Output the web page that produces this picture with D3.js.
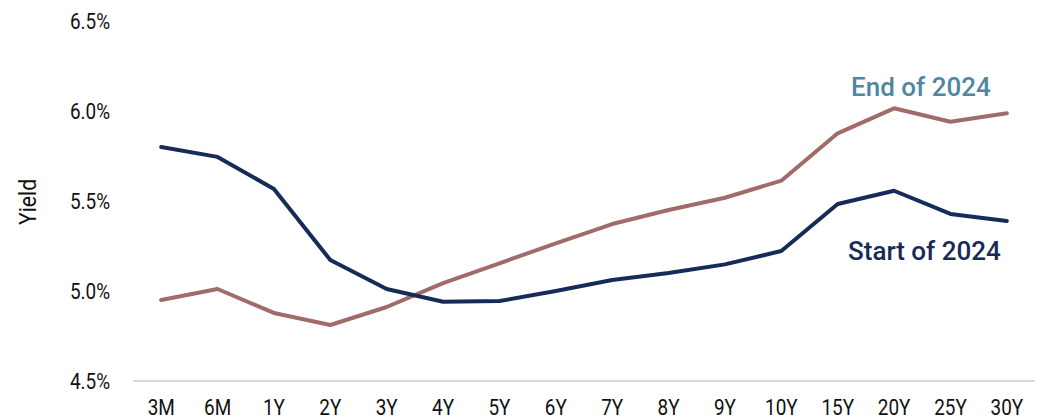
<!DOCTYPE html>
<html>
<head>
<meta charset="utf-8">
<script src="https://cdn.jsdelivr.net/npm/d3@7"></script>
<style>
  body { margin: 0; background: #fff; }
  text { font-family: Roboto, "Noto Sans", sans-serif; }
</style>
</head>
<body>
<div id="chart"></div>
<script>
var tenors = ["3M","6M","1Y","2Y","3Y","4Y","5Y","6Y","7Y","8Y","9Y","10Y","15Y","20Y","25Y","30Y"];
var startOf2024 = [5.80,5.745,5.567,5.172,5.011,4.94,4.944,5.0,5.061,5.10,5.148,5.222,5.483,5.557,5.428,5.389];
var endOf2024 = [4.95,5.011,4.878,4.811,4.911,5.044,5.154,5.265,5.372,5.45,5.518,5.613,5.876,6.015,5.94,5.987];
var yTicks = [4.5,5.0,5.5,6.0,6.5];

var width = 1049, height = 419;
var squeeze = 0.86; // narrow the text like a condensed face

var svg = d3.select("#chart")
    .append("svg")
    .attr("width", width)
    .attr("height", height);

var x = d3.scaleBand()
    .domain(tenors)
    .range([133, 1035]);

var y = d3.scaleLinear()
    .domain([4.5, 6.5])
    .range([381, 21]);

// baseline
svg.append("line")
    .attr("x1", x.range()[0])
    .attr("x2", x.range()[1])
    .attr("y1", y(4.5))
    .attr("y2", y(4.5))
    .attr("stroke", "#d9d9d9")
    .attr("stroke-width", 2);

// y axis labels
var yAxis = svg.append("g")
    .attr("transform", "translate(110,0)")
    .call(d3.axisLeft(y)
        .tickValues(yTicks)
        .tickSize(0)
        .tickPadding(0)
        .tickFormat(function(d) { return d.toFixed(1) + "%"; }));
yAxis.select(".domain").remove();
yAxis.selectAll("text")
    .attr("font-size", 22)
    .attr("font-family", "Roboto")
    .attr("fill", "#111")
    .attr("dy", "0.35em")
    .attr("transform", "scale(" + squeeze + ",1)");

// x axis labels
var xAxis = svg.append("g")
    .attr("transform", "translate(0," + y(4.5) + ")")
    .call(d3.axisBottom(x).tickSize(0).tickPadding(0));
xAxis.select(".domain").remove();
xAxis.selectAll("text")
    .attr("font-size", 22)
    .attr("font-family", "Roboto")
    .attr("fill", "#111")
    .attr("y", 34.5)
    .attr("dy", 0)
    .attr("transform", "scale(" + squeeze + ",1)");

// y axis title
svg.append("text")
    .attr("transform", "translate(36,202) rotate(-90) scale(0.92,1)")
    .attr("text-anchor", "middle")
    .attr("font-size", 23)
    .attr("fill", "#111")
    .text("Yield");

var line = d3.line()
    .x(function(d, i) { return x(tenors[i]) + x.bandwidth() / 2; })
    .y(function(d) { return y(d); });

svg.append("path")
    .datum(endOf2024)
    .attr("d", line)
    .attr("fill", "none")
    .attr("stroke", "#a06b68")
    .attr("stroke-width", 4)
    .attr("stroke-linejoin", "round")
    .attr("stroke-linecap", "round");

svg.append("path")
    .datum(startOf2024)
    .attr("d", line)
    .attr("fill", "none")
    .attr("stroke", "#172b58")
    .attr("stroke-width", 4)
    .attr("stroke-linejoin", "round")
    .attr("stroke-linecap", "round");

// series labels
svg.append("text")
    .attr("x", 851)
    .attr("y", 95.5)
    .attr("font-size", 26)
    .attr("font-weight", 500)
    .attr("fill", "#4f87a0")
    .text("End of 2024");

svg.append("text")
    .attr("x", 848)
    .attr("y", 260)
    .attr("font-size", 26)
    .attr("font-weight", 500)
    .attr("fill", "#172b58")
    .text("Start of 2024");
</script>
</body>
</html>
